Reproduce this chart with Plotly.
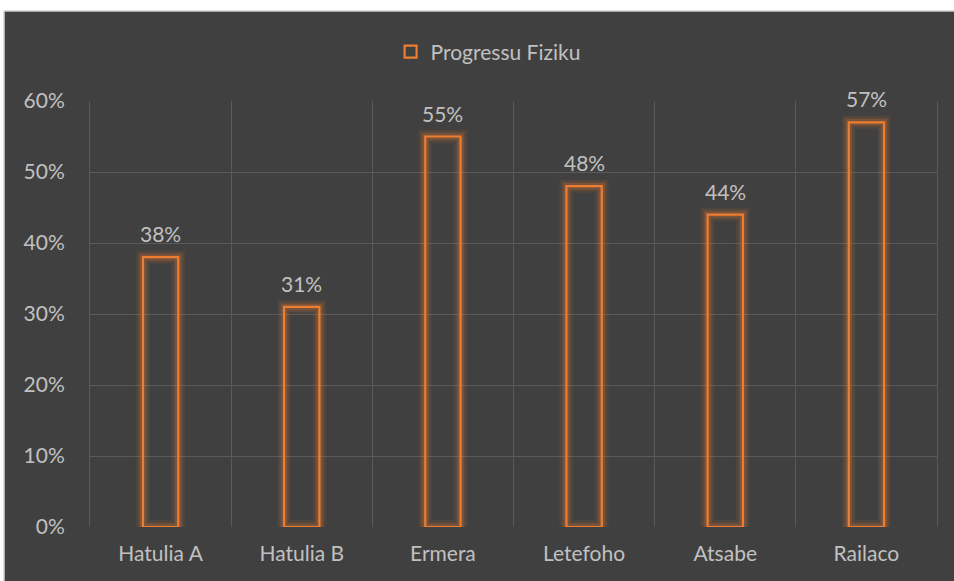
import plotly.graph_objects as go

categories = ["Hatulia A", "Hatulia B", "Ermera", "Letefoho", "Atsabe", "Railaco"]
values = [0.38, 0.31, 0.55, 0.48, 0.44, 0.57]
series_name = "Progressu Fiziku"
tick_vals = [0, 0.1, 0.2, 0.3, 0.4, 0.5, 0.6]

ORANGE = "#ED7D31"
BG = "#404040"
GRID = "#5A5A5A"
TXT = "#C0C0C0"
FONT = "Lato, Open Sans, sans-serif"
FS = 21

fig = go.Figure()
# glow layers
for w, a in [(14, 0.07), (10, 0.11), (6.5, 0.2)]:
    fig.add_trace(go.Bar(
        x=categories, y=values, width=0.25,
        marker=dict(color="rgba(0,0,0,0)", line=dict(color=f"rgba(237,125,49,{a})", width=w)),
        showlegend=False, hoverinfo="skip"))
fig.add_trace(go.Bar(
    x=categories, y=values, width=0.25, name=series_name,
    marker=dict(color="rgba(0,0,0,0)", line=dict(color=ORANGE, width=2.2)),
    showlegend=True, hoverinfo="x+y"))

annotations = [dict(x=c, y=v, xref="x", yref="y", text=f"{v*100:.0f}%",
                    showarrow=False, yanchor="bottom", yshift=9,
                    font=dict(color=TXT, size=FS, family=FONT))
               for c, v in zip(categories, values)]

fig.update_layout(
    width=954, height=581,
    barmode="overlay",
    paper_bgcolor="white", plot_bgcolor=BG,
    margin=dict(l=90, r=17, t=101, b=54, autoexpand=False),
    font=dict(family=FONT, color=TXT, size=FS),
    showlegend=True,
    legend=dict(orientation="h", x=0.47, xanchor="center", y=1.115, yanchor="middle",
                bgcolor="rgba(0,0,0,0)", font=dict(size=FS, color=TXT, family=FONT),
                itemwidth=30, traceorder="normal"),
    annotations=annotations,
    shapes=[dict(type="rect", xref="paper", yref="paper",
                 x0=-0.1015, x1=1.03, y0=-0.14, y1=1.2113,
                 fillcolor=BG, line=dict(color="#D0D0D0", width=1.5), layer="below")],
)
fig.update_xaxes(showgrid=True, gridcolor=GRID, gridwidth=1, tickson="boundaries",
                 ticks="", ticklabelstandoff=12,
                 showline=False, zeroline=False, automargin=False,
                 tickfont=dict(size=FS, color=TXT, family=FONT))
fig.update_yaxes(range=[0, 0.6], tickvals=tick_vals, tickformat=".0%",
                 showgrid=True, gridcolor=GRID, gridwidth=1, zeroline=False,
                 showline=True, mirror=True, linecolor=GRID, linewidth=1,
                 ticks="outside", ticklen=20, tickcolor="rgba(0,0,0,0)", automargin=False,
                 tickfont=dict(size=FS, color=TXT, family=FONT))

fig.write_html("out.html", config={"displayModeBar": False},
               post_script="document.body.style.margin='0';document.body.style.overflow='hidden';")
